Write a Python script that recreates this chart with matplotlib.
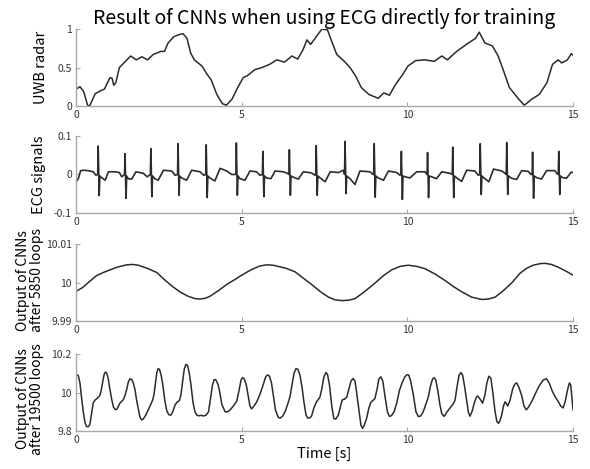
"""Result of CNNs when using ECG directly for training: four stacked traces."""

import matplotlib
matplotlib.use("Agg")
import matplotlib.pyplot as plt

plt.rcParams["font.family"] = ["Noto Sans CJK JP", "DejaVu Sans"]

TITLE = "Result of CNNs when using ECG directly for training"
X_LABEL = "Time [s]"
X_TICKS = [0, 5, 10, 15]

# --------------------------------------------------------------------------- #
# Panel 1: UWB radar (normalised)
# --------------------------------------------------------------------------- #
uwb_t = [0, 0.12, 0.23, 0.35, 0.41, 0.58, 0.75, 0.86, 0.97, 1.03, 1.09, 1.14,
         1.20, 1.31, 1.40, 1.65, 1.82, 1.99, 2.16, 2.33, 2.56, 2.67, 2.78, 2.95,
         3.12, 3.23, 3.35, 3.46, 3.57, 3.80, 3.96, 4.08, 4.25, 4.42, 4.54, 4.71,
         4.88, 5.05, 5.16, 5.39, 5.61, 5.84, 6.06, 6.29, 6.52, 6.69, 6.85, 6.97,
         7.08, 7.25, 7.42, 7.59, 7.70, 7.87, 8.10, 8.27, 8.44, 8.61, 8.84, 9.12,
         9.29, 9.46, 9.63, 9.86, 10.02, 10.25, 10.53, 10.81, 11.04, 11.21, 11.49,
         11.78, 12.06, 12.17, 12.34, 12.57, 12.74, 12.91, 13.08, 13.36, 13.53,
         13.76, 13.98, 14.21, 14.38, 14.55, 14.66, 14.83, 14.95, 15.0]
uwb_v = [0.22, 0.25, 0.19, 0.01, 0.0, 0.16, 0.20, 0.22, 0.32, 0.37, 0.36, 0.27,
         0.30, 0.50, 0.54, 0.65, 0.60, 0.64, 0.60, 0.67, 0.71, 0.71, 0.82, 0.90,
         0.93, 0.94, 0.88, 0.69, 0.60, 0.52, 0.41, 0.34, 0.15, 0.03, 0.01, 0.09,
         0.24, 0.37, 0.39, 0.47, 0.50, 0.54, 0.60, 0.57, 0.65, 0.61, 0.73, 0.86,
         0.80, 0.90, 1.0, 0.99, 0.86, 0.67, 0.58, 0.50, 0.39, 0.24, 0.15, 0.10,
         0.17, 0.14, 0.27, 0.41, 0.52, 0.59, 0.60, 0.58, 0.65, 0.60, 0.71,
         0.80, 0.88, 0.96, 0.82, 0.78, 0.65, 0.45, 0.24, 0.09, 0.01,
         0.09, 0.15, 0.30, 0.54, 0.60, 0.56, 0.60, 0.68, 0.66]

# --------------------------------------------------------------------------- #
# Panel 2: ECG signals (baseline + R spikes)
# --------------------------------------------------------------------------- #
ecg_base_t = [0.0, 0.07, 0.14, 0.27, 0.42, 0.52, 0.60,
              0.74, 0.88, 0.98, 1.18, 1.31, 1.38,
              1.58, 1.68, 1.81, 2.03, 2.15,
              2.38, 2.48, 2.64, 2.89, 2.99,
              3.19, 3.34, 3.49, 3.74, 3.86,
              4.04, 4.19, 4.35, 4.55, 4.70,
              4.95, 5.10, 5.25, 5.45, 5.55,
              5.75, 5.88, 6.01, 6.26, 6.38,
              6.61, 6.71, 6.86, 7.11, 7.21,
              7.37, 7.52, 7.67, 7.92, 8.07,
              8.27, 8.42, 8.57, 8.87, 8.97,
              9.12, 9.28, 9.43, 9.68, 9.78,
              9.93, 10.08, 10.28, 10.53,
              10.73, 10.88, 11.04, 11.29,
              11.49, 11.64, 11.79, 12.04, 12.14,
              12.34, 12.46, 12.60, 12.85, 12.95,
              13.15, 13.30, 13.45, 13.65, 13.73,
              13.90, 14.05, 14.20, 14.45, 14.52,
              14.68, 14.80, 14.95, 15.0]
ecg_base_v = [-0.019, -0.011, 0.010, 0.011, 0.009, 0.007, -0.002,
              -0.006, -0.015, 0.007, 0.007, 0.005, -0.006,
              -0.011, -0.012, 0.007, 0.003, -0.006,
              -0.011, -0.015, 0.011, 0.009, -0.002,
              -0.009, -0.015, 0.011, 0.007, -0.002,
              -0.009, -0.017, 0.016, 0.009, 0.0,
              -0.011, -0.015, 0.009, 0.007, -0.002,
              -0.009, -0.011, 0.009, 0.007, 0.003,
              -0.009, -0.012, 0.007, 0.004, -0.002,
              -0.009, -0.019, 0.007, 0.005, 0.011,
              -0.011, -0.026, 0.009, 0.007, 0.0,
              -0.009, -0.015, 0.009, 0.005, -0.002,
              -0.006, -0.009, 0.007, 0.007,
              -0.006, -0.011, 0.007, 0.003,
              -0.009, -0.018, 0.011, 0.009, -0.002,
              -0.011, -0.019, 0.014, 0.009, 0.003,
              -0.010, -0.013, 0.010, 0.008, 0.0,
              -0.008, -0.012, 0.010, 0.010, 0.002,
              -0.008, -0.010, 0.006, 0.005]
r_peak_t = [0.67, 1.48, 2.26, 3.08, 3.93, 4.84, 5.64, 6.44, 7.25, 8.12, 9.0,
            9.82, 10.61, 11.37, 12.2, 13.0, 13.78, 14.57]
r_peak_top = [0.074, 0.054, 0.067, 0.080, 0.077, 0.082, 0.060, 0.064, 0.075,
              0.086, 0.080, 0.060, 0.057, 0.071, 0.080, 0.083, 0.058, 0.060]
r_peak_bottom = [-0.055, -0.062, -0.058, -0.054, -0.060, -0.054, -0.058,
                 -0.054, -0.054, -0.050, -0.059, -0.065, -0.060, -0.060,
                 -0.052, -0.052, -0.062, -0.052]

# --------------------------------------------------------------------------- #
# Panel 3: CNN output after 5850 loops
# --------------------------------------------------------------------------- #
cnn5850_t = [0, 0.2, 0.4, 0.62, 0.85, 1.03, 1.25, 1.53, 1.7, 1.88, 2.15, 2.44,
             2.7, 2.94, 3.15, 3.39, 3.6, 3.74, 3.9, 4.04, 4.3, 4.55, 4.8, 5.0,
             5.28, 5.55, 5.75, 5.95, 6.15, 6.34, 6.61, 6.85, 7.11, 7.38, 7.62,
             7.82, 8.02, 8.22, 8.42, 8.72, 9.03, 9.28, 9.53, 9.78, 10.03, 10.28,
             10.53, 10.84, 11.14, 11.4, 11.64, 11.94, 12.24, 12.45, 12.65, 12.9,
             13.15, 13.4, 13.6, 13.8, 14.0, 14.15, 14.35, 14.55, 14.8, 15.0]
cnn5850_v = [9.9977, 9.9987, 10.0002, 10.0018, 10.0027, 10.0033, 10.0040,
             10.0046, 10.0047, 10.0045, 10.0037, 10.0026, 10.0005, 9.9988,
             9.9975, 9.9964, 9.9958, 9.9957, 9.9959, 9.9964, 9.9979, 9.9995,
             10.0008, 10.0019, 10.0033, 10.0043, 10.0046, 10.0045, 10.0041,
             10.0037, 10.0028, 10.0012, 9.9995, 9.9976, 9.9962, 9.9955, 9.9953,
             9.9954, 9.9958, 9.9977, 9.9999, 10.0018, 10.0033, 10.0042, 10.0045,
             10.0042, 10.0036, 10.0022, 10.0005, 9.9989, 9.9976, 9.9962, 9.9956,
             9.9957, 9.9962, 9.9979, 9.9999, 10.0024, 10.0037, 10.0045, 10.0049,
             10.0050, 10.0047, 10.0040, 10.0029, 10.0019]

# --------------------------------------------------------------------------- #
# Panel 4: CNN output after 19500 loops
# --------------------------------------------------------------------------- #
cnn19500_t = [0, 0.07, 0.12, 0.17, 0.22, 0.27, 0.32, 0.37, 0.42, 0.47, 0.52,
              0.57, 0.62, 0.67, 0.72, 0.76, 0.80, 0.85, 0.89, 0.93, 0.97, 1.02,
              1.08, 1.13, 1.18, 1.22, 1.26, 1.33, 1.43, 1.48, 1.53, 1.58, 1.63,
              1.68, 1.73, 1.78, 1.83, 1.88, 1.93, 1.98, 2.03, 2.11, 2.23, 2.3,
              2.35, 2.4, 2.44, 2.48, 2.52, 2.57, 2.62, 2.68, 2.74, 2.8, 2.86,
              2.92, 2.99, 3.05, 3.12, 3.17, 3.22, 3.27, 3.32, 3.37, 3.42, 3.47,
              3.53, 3.59, 3.65, 3.72, 3.78, 3.84, 3.92, 4.0, 4.06, 4.12, 4.17,
              4.22, 4.28, 4.33, 4.4, 4.5, 4.58, 4.65, 4.75, 4.85, 4.92, 4.98,
              5.03, 5.08, 5.14, 5.2, 5.25, 5.3, 5.37, 5.45, 5.55, 5.65, 5.72,
              5.78, 5.84, 5.9, 5.96, 6.02, 6.1, 6.16, 6.24, 6.31, 6.39, 6.46,
              6.52, 6.58, 6.64, 6.7, 6.76, 6.82, 6.88, 6.94, 6.99, 7.05, 7.11,
              7.18, 7.26, 7.36, 7.42, 7.48, 7.54, 7.59, 7.65, 7.72, 7.78, 7.84,
              7.92, 8.0, 8.04, 8.1, 8.17, 8.24, 8.3, 8.36, 8.42, 8.47, 8.53, 8.6,
              8.65, 8.7, 8.77, 8.84, 8.9, 9.02, 9.09, 9.14, 9.2, 9.26, 9.33, 9.4,
              9.46, 9.52, 9.6, 9.68, 9.76, 9.84, 9.92, 9.98, 10.04, 10.1, 10.18,
              10.26, 10.33, 10.4, 10.48, 10.56, 10.63, 10.7, 10.76, 10.81, 10.86,
              10.92, 10.98, 11.04, 11.11, 11.2, 11.29, 11.38, 11.44, 11.5, 11.56,
              11.62, 11.67, 11.73, 11.79, 11.84, 11.89, 11.95, 12.02, 12.08,
              12.12, 12.18, 12.27, 12.34, 12.4, 12.46, 12.52, 12.58, 12.64, 12.7,
              12.75, 12.8, 12.85, 12.9, 12.95, 13.0, 13.03, 13.1, 13.18, 13.25,
              13.3, 13.36, 13.45, 13.52, 13.59, 13.66, 13.76, 13.88, 13.98, 14.1,
              14.2, 14.28, 14.38, 14.47, 14.55, 14.63, 14.7, 14.76, 14.83, 14.89,
              14.93, 14.97, 15.0]
cnn19500_v = [10.095, 10.088, 10.05, 9.97, 9.90, 9.845, 9.823, 9.822, 9.835,
              9.89, 9.946, 9.96, 9.967, 9.975, 9.985, 10.01, 10.05, 10.095,
              10.107, 10.1, 10.075, 10.02, 9.963, 9.925, 9.912, 9.912, 9.922,
              9.946, 9.963, 9.985, 10.016, 10.055, 10.072, 10.068, 10.05, 10.015,
              9.96, 9.915, 9.872, 9.858, 9.862, 9.884, 9.928, 9.955, 9.985,
              10.05, 10.105, 10.125, 10.12, 10.09, 10.04, 9.96, 9.905, 9.885,
              9.882, 9.9, 9.935, 9.95, 9.958, 9.99, 10.06, 10.125, 10.147, 10.14,
              10.1, 10.04, 9.95, 9.9, 9.882, 9.879, 9.882, 9.878, 9.882, 9.9,
              9.97, 10.04, 10.068, 10.066, 10.045, 10.01, 9.94, 9.9, 9.9, 9.91,
              9.93, 9.955, 10.01, 10.065, 10.078, 10.07, 10.04, 9.98, 9.93, 9.915,
              9.93, 9.95, 9.99, 10.04, 10.08, 10.092, 10.085, 10.05, 9.98, 9.91,
              9.872, 9.867, 9.878, 9.9, 9.94, 9.98, 10.04, 10.1, 10.125, 10.12,
              10.09, 10.03, 9.95, 9.885, 9.868, 9.868, 9.878, 9.92, 9.952, 9.975,
              10.02, 10.08, 10.104, 10.095, 10.04, 9.93, 9.865, 9.862, 9.884,
              9.94, 9.963, 9.965, 9.975, 10.02, 10.06, 10.073, 10.06, 10.0, 9.92,
              9.83, 9.814, 9.83, 9.865, 9.92, 9.95, 9.968, 10.02, 10.07, 10.082,
              10.06, 9.975, 9.9, 9.876, 9.88, 9.9, 9.945, 10.01, 10.05, 10.08,
              10.092, 10.092, 10.06, 9.99, 9.9, 9.875, 9.878, 9.9, 9.94, 9.975,
              10.035, 10.07, 10.077, 10.065, 10.01, 9.94, 9.89, 9.876, 9.9, 9.92,
              9.94, 9.96, 10.03, 10.09, 10.104, 10.09, 10.03, 9.96, 9.9, 9.877,
              9.9, 9.945, 9.975, 9.982, 9.97, 9.945, 9.985, 10.05, 10.085,
              10.075, 10.0, 9.91, 9.85, 9.84, 9.855, 9.884, 9.93, 9.952, 9.94,
              9.93, 9.96, 10.02, 10.045, 10.05, 10.03, 9.985, 9.93, 9.91, 9.925,
              9.956, 10.0, 10.035, 10.065, 10.072, 10.05, 10.005, 9.975, 9.955,
              9.93, 9.92, 9.95, 10.01, 10.05, 10.04, 9.97, 9.91]

LINE = "#2b2b2b"
AXIS = "#a8a8a8"


def ecg_trace():
    """Merge the baseline points with the R-spike extremes into one polyline."""
    pts = list(zip(ecg_base_t, ecg_base_v))
    for t, top, bot in zip(r_peak_t, r_peak_top, r_peak_bottom):
        pts += [(t - 0.015, 0.0), (t, top), (t + 0.03, bot), (t + 0.05, -0.004)]
    pts.sort()
    return [p[0] for p in pts], [p[1] for p in pts]


def style(ax, ylim, yticks, yticklabels):
    ax.set_xlim(0, 15)
    ax.set_ylim(*ylim)
    ax.set_xticks(X_TICKS)
    ax.set_xticklabels([str(x) for x in X_TICKS])
    ax.set_yticks(yticks)
    ax.set_yticklabels(yticklabels)
    for side in ("top", "right"):
        ax.spines[side].set_visible(False)
    for side in ("left", "bottom"):
        ax.spines[side].set_color(AXIS)
        ax.spines[side].set_linewidth(1.0)
    ax.tick_params(direction="in", length=3, width=0.8, color=AXIS,
                   labelsize=7.5, labelcolor="#333333", pad=3)


fig = plt.figure(figsize=(5.9, 4.69), dpi=100)
left, width, height = 0.1288, 0.8424, 0.164
bottoms = [0.774, 0.546, 0.3156, 0.081]
axes = [fig.add_axes([left, b, width, height]) for b in bottoms]

a1, a2, a3, a4 = axes
a1.plot(uwb_t, uwb_v, color=LINE, lw=1.1)
style(a1, (0, 1), [0, 0.5, 1], ["0", "0.5", "1"])
a1.set_ylabel("UWB radar", fontsize=10.5)
a1.yaxis.set_label_coords(-0.056, 0.5)
a1.set_title(TITLE, fontsize=14, pad=3)

et, ev = ecg_trace()
a2.plot(et, ev, color=LINE, lw=1.2)
style(a2, (-0.1, 0.1), [-0.1, 0, 0.1], ["-0.1", "0", "0.1"])
a2.set_ylabel("ECG signals", fontsize=10.5)
a2.yaxis.set_label_coords(-0.06, 0.5)

a3.plot(cnn5850_t, cnn5850_v, color=LINE, lw=1.1)
style(a3, (9.99, 10.01), [9.99, 10.0, 10.01], ["9.99", "10", "10.01"])
a3.set_ylabel("Output of CNNs\nafter 5850 loops", fontsize=10, linespacing=1.05)
a3.yaxis.set_label_coords(-0.064, 0.53)

a4.plot(cnn19500_t, cnn19500_v, color=LINE, lw=1.1)
style(a4, (9.8, 10.2), [9.8, 10.0, 10.2], ["9.8", "10", "10.2"])
a4.set_ylabel("Output of CNNs\nafter 19500 loops", fontsize=10, linespacing=1.05)
a4.yaxis.set_label_coords(-0.064, 0.42)
a4.set_xlabel(X_LABEL, fontsize=10.5, labelpad=1)

fig.savefig("out.png", dpi=100)
